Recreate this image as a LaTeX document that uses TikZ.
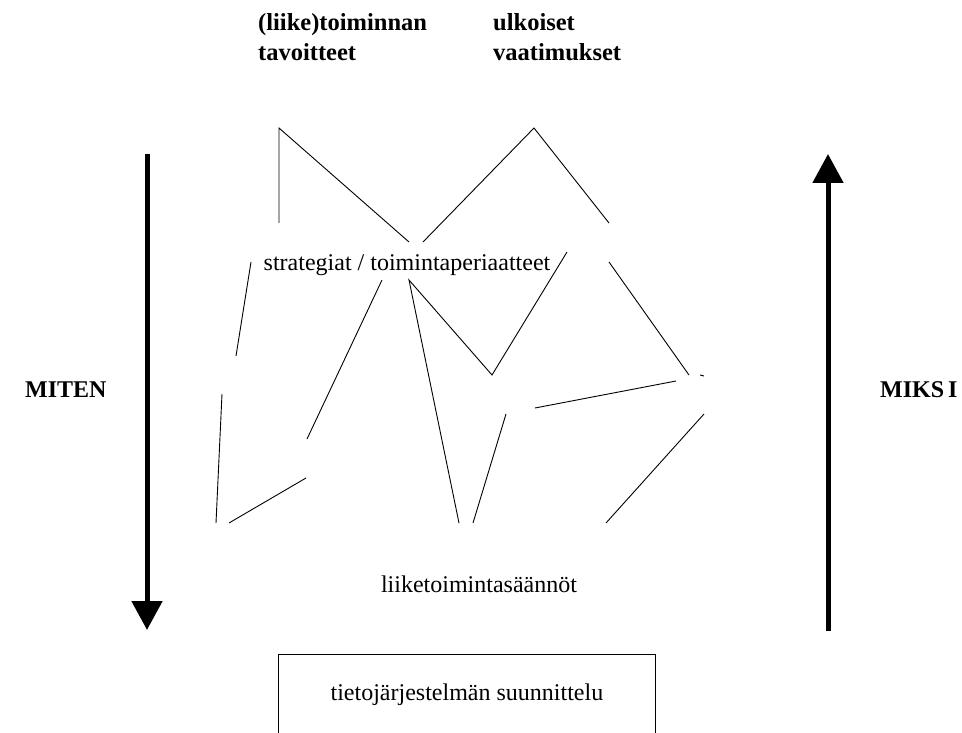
\documentclass[tikz,border=0pt]{standalone}
\usepackage{fontspec}
\setmainfont{Liberation Serif}
\usetikzlibrary{positioning, arrows.meta}
\tikzset{
  % texts
  plainlabel/.style = { font=\fontsize{24}{28}\selectfont, inner sep=0pt },
  boldlabel/.style  = { font=\fontsize{24.5}{30}\selectfont\bfseries, inner sep=0pt,
                        align=left },
  sidelabel/.style  = { font=\fontsize{24}{28}\selectfont\bfseries, inner sep=0pt },
  designbox/.style  = { draw, line width=0.8pt, minimum width=377pt, minimum height=80pt,
                        font=\fontsize{24}{28}\selectfont },
  % lines
  link/.style       = { line width=0.9pt },
  bigarrow/.style   = { line width=5pt, -{Triangle[width=30pt, length=29pt]} }
}
\begin{document}
\begin{tikzpicture}[x=1pt, y=-1pt]
  \clip (0,0) rectangle (962,733);

  % top labels
  \node[boldlabel, anchor=west] (goals) at (258,37) {(liike)toiminnan\\tavoitteet};
  \node[boldlabel, anchor=west] (reqs)  at (493,37) {ulkoiset\\vaatimukset};

  \node[plainlabel] (strat) at (407,265) {strategiat / toimintaperiaatteet};
  \node[plainlabel] (rules) at (479,584) {liiketoimintasäännöt};
  \node[sidelabel, anchor=west] (how) at (25,390) {MITEN};
  \node[sidelabel, anchor=west] (why) at (880,390) {MIKS\,I};

  \node[designbox, anchor=north west] (design) at (278,654) {tietojärjestelmän suunnittelu};

  % network of fragments
  \coordinate (g1) at (279,128);  \coordinate (g2) at (279,223);
  \coordinate (v1) at (534,128);
  \coordinate (s1) at (409,242);  \coordinate (s2) at (423,242);
  \coordinate (r1) at (609,223);
  \draw[link] (g2) -- (g1) -- (s1);
  \draw[link] (s2) -- (v1) -- (r1);

  \coordinate (a1) at (251,262);  \coordinate (a2) at (236,356);
  \coordinate (b1) at (382,280);  \coordinate (b2) at (307,439);
  \coordinate (c1) at (409,280);  \coordinate (c2) at (459,523);
  \coordinate (m1) at (492,375);  \coordinate (m2) at (567,252);
  \coordinate (d1) at (609,262);  \coordinate (d2) at (689,375);
  \coordinate (e1) at (222,394);  \coordinate (e2) at (216,523);
  \coordinate (f1) at (306,478);  \coordinate (f2) at (229,523);
  \coordinate (h1) at (535,408);  \coordinate (h2) at (676,381);
  \coordinate (k1) at (506,414);  \coordinate (k2) at (473,523);
  \coordinate (n1) at (704,414);  \coordinate (n2) at (606,523);
  \coordinate (t1) at (700,375);  \coordinate (t2) at (704,376);

  \draw[link] (a1) -- (a2);
  \draw[link] (b1) -- (b2);
  \draw[link] (c2) -- (c1) -- (m1) -- (m2);
  \draw[link] (d1) -- (d2);
  \draw[link] (e1) -- (e2);
  \draw[link] (f1) -- (f2);
  \draw[link] (h1) -- (h2);
  \draw[link] (k1) -- (k2);
  \draw[link] (n1) -- (n2);
  \draw[link] (t1) -- (t2);

  % direction arrows
  \coordinate (howtop) at (147,154);  \coordinate (howtip) at (147,630);
  \coordinate (whybot) at (828,631);  \coordinate (whytip) at (828,154);
  \draw[bigarrow] (howtop) -- (howtip);
  \draw[bigarrow] (whybot) -- (whytip);
\end{tikzpicture}
\end{document}
